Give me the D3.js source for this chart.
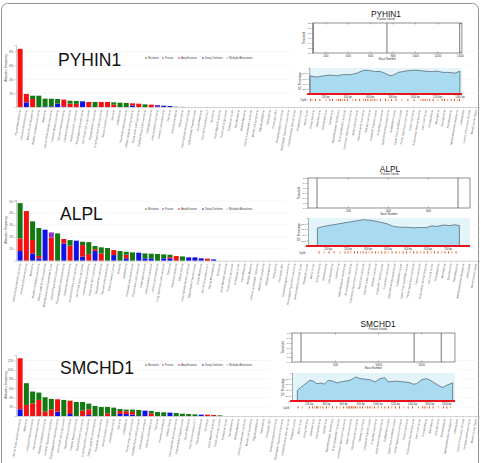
<!DOCTYPE html>
<html><head><meta charset="utf-8">
<script src="https://cdn.jsdelivr.net/npm/d3@7"></script>
<style>body{margin:0;background:#fff}svg{display:block}text{font-family:Arial,"Liberation Sans",Helvetica,sans-serif}</style>
</head><body><svg id="c" width="481" height="463"></svg>
<script>
// ---------------- DATA ----------------
const seriesKeys = ["deletion","amplification","fusion","mutation","multiple"];
const seriesNames = ["Mutation","Fusion","Amplification","Deep Deletion","Multiple Alterations"];
const seriesColors = {mutation:"#137a13",fusion:"#8b2fc9",amplification:"#f41010",deletion:"#1010e8",multiple:"#a8bcd8"};
const legendKeys = ["mutation","fusion","amplification","deletion","multiple"];

const pyhinCats = ["Pleural Mesothelioma","Cervical Adenocarcinoma","Mature B-Cell Neoplasms","Bladder Urothelial Carcinoma","Melanoma","Uterine Endometrioid Carcinoma","Invasive Breast Carcinoma","Stomach Adenocarcinoma","Colorectal Adenocarcinoma","Head and Neck Carcinoma","Esophageal Adenocarcinoma","Non-Small Cell Lung Cancer","Hepatocellular Carcinoma","Lung Squamous Cell Carcinoma","Serous Ovarian Cancer","Sarcoma","Glioblastoma","Pancreatic Adenocarcinoma","Diffuse Large B-Cell Lymphoma","Renal Clear Cell Carcinoma","Papillary Renal Cell Carcinoma","Cholangiocarcinoma","Adrenocortical Carcinoma","Uterine Carcinosarcoma","Thymoma","Pheochromocytoma","Diffuse Glioma","Chromophobe Renal Carcinoma","Differentiated Thyroid Cancer","Ocular Melanoma","Non-Seminomatous GCT","Seminoma","Acute Myeloid Leukemia","Small Cell Lung Cancer","Embryonal Tumor","Neuroblastoma","Multiple Myeloma","Chronic Lymphocytic Leukemia","Mantle Cell Lymphoma","Oligodendroglioma","Astrocytoma","Pancreatic NET","Nasopharyngeal Carcinoma","Esophageal Squamous Carcinoma","Gastrointestinal Stromal Tumor","Rhabdoid Cancer","Wilms Tumor","Ewing Sarcoma","Osteosarcoma","Leiomyosarcoma","Liposarcoma","Myelodysplastic Syndromes","B-Lymphoblastic Leukemia","Cutaneous Squamous Carcinoma","Basal Cell Carcinoma","Adenoid Cystic Carcinoma","Salivary Carcinoma","Anaplastic Thyroid Cancer","Ampullary Carcinoma","Appendiceal Adenocarcinoma","Gallbladder Cancer","Upper Tract Urothelial Cancer","Penile Squamous Carcinoma","Vulvar Carcinoma","Endometrial Stromal Sarcoma","Germ Cell Tumor","Pineoblastoma","Meningioma","Ependymoma","Retinoblastoma","Myeloproliferative Neoplasms","Histiocytosis","Cancer of Unknown Primary","Mixed Cancer Types"];
const pyhinDel  = [0,0.67,0,0,0.1,0.1,0.5,0.1,0,0,0.82,0,0,0,0,0,0,0,0.2,0,0,0,0,0.19,0.14,0,0];
const pyhinAmp  = [8.37,1.21,1.15,0,0,0,0,0.96,0.5,0.45,0,0.72,0,0.72,0.72,0.35,0,0,0.33,0.48,0,0.34,0,0,0,0,0];
const pyhinFus  = [0,0,0,0,0,0,0,0,0,0,0,0,0,0,0,0,0,0,0,0,0,0,0.29,0,0,0,0];
const pyhinMut  = [0,0,0.48,1.63,1.1,1.1,0.65,0,0.4,0.42,0,0,0.72,0,0,0.32,0.62,0.58,0,0,0.38,0,0,0,0,0,0];
const pyhinMulti= [0,0,0,0,0,0,0,0,0,0,0,0,0,0,0,0,0,0,0,0,0,0,0,0,0,0.1,0.05];

const alplCats = ["Uterine Endometrioid Carcinoma","Prostate Adenocarcinoma","Melanoma","Bladder Urothelial Carcinoma","Diffuse Large B-Cell Lymphoma","Miscellaneous Neuroepithelial Tumor","Cervical Squamous Carcinoma","Esophagogastric Adenocarcinoma","Colorectal Adenocarcinoma","Renal Non-Clear Cell Carcinoma","Non-Small Cell Lung Cancer","Invasive Breast Carcinoma","Head and Neck Carcinoma","Hepatocellular Carcinoma","Stomach Adenocarcinoma","Serous Ovarian Cancer","Sarcoma","Glioblastoma","Pancreatic Adenocarcinoma","Renal Clear Cell Carcinoma","Cholangiocarcinoma","Adrenocortical Carcinoma","Uterine Carcinosarcoma","Lung Squamous Cell Carcinoma","Thymoma","Pheochromocytoma","Diffuse Glioma","Chromophobe Renal Carcinoma","Differentiated Thyroid Cancer","Ocular Melanoma","Non-Seminomatous GCT","Pleural Mesothelioma","Seminoma","Acute Myeloid Leukemia","Small Cell Lung Cancer","Embryonal Tumor","Neuroblastoma","Multiple Myeloma","Chronic Lymphocytic Leukemia","Mantle Cell Lymphoma","Oligodendroglioma","Astrocytoma","Pancreatic NET","Nasopharyngeal Carcinoma","Esophageal Squamous Carcinoma","Gastrointestinal Stromal Tumor","Rhabdoid Cancer","Wilms Tumor","Ewing Sarcoma","Osteosarcoma","Leiomyosarcoma","Liposarcoma","Myelodysplastic Syndromes","B-Lymphoblastic Leukemia","Cutaneous Squamous Carcinoma","Basal Cell Carcinoma","Adenoid Cystic Carcinoma","Salivary Carcinoma","Anaplastic Thyroid Cancer","Ampullary Carcinoma","Appendiceal Adenocarcinoma","Gallbladder Cancer","Upper Tract Urothelial Cancer","Penile Squamous Carcinoma","Vulvar Carcinoma","Endometrial Stromal Sarcoma","Germ Cell Tumor","Pineoblastoma","Meningioma","Ependymoma","Retinoblastoma","Myeloproliferative Neoplasms","Histiocytosis","Mixed Cancer Types"];
const alplDel  = [0.81,0,0.61,0.2,2.6,0,0,1.45,0,1.68,0.34,0,0.81,0,0,0.47,0,0.2,0,0.67,0.2,0.2,0,0.2,0.2,0,0,0.28,0.28,0.2,0,0.11,0];
const alplAmp  = [1.06,4.16,1.12,0.2,0,1.95,0,0.37,1.26,0,0.97,0.55,0.15,0.61,0,0.42,0,0.3,0,0,0,0,0,0,0.1,0.39,0,0,0,0,0.17,0,0];
const alplFus  = [0,0,0,0,0,0.42,0,0,0,0,0,0,0,0,0,0,0,0,0,0,0,0,0,0,0,0,0,0,0,0,0,0,0];
const alplMut  = [2.96,0,1.57,2.34,0,0,2.29,0,0.47,0,0.28,1.01,0.27,0.51,1.06,0,0.81,0.25,0.7,0,0.41,0.39,0.56,0.33,0.2,0,0.36,0,0,0,0,0,0];
const alplMulti= [0,0,0,0,0,0,0,0,0,0,0,0,0,0,0,0,0,0,0,0,0,0,0,0,0,0,0,0,0,0,0,0,0];

const smchdCats = ["Uterine Endometrioid Carcinoma","Melanoma","Colorectal Adenocarcinoma","Stomach Adenocarcinoma","Bladder Urothelial Carcinoma","Cervical Squamous Carcinoma","Esophagogastric Adenocarcinoma","Non-Small Cell Lung Cancer","Hepatocellular Carcinoma","Invasive Breast Carcinoma","Head and Neck Carcinoma","Lung Squamous Cell Carcinoma","Diffuse Large B-Cell Lymphoma","Pancreatic Adenocarcinoma","Serous Ovarian Cancer","Cholangiocarcinoma","Sarcoma","Glioblastoma","Renal Clear Cell Carcinoma","Papillary Renal Cell Carcinoma","Adrenocortical Carcinoma","Uterine Carcinosarcoma","Thymoma","Pheochromocytoma","Diffuse Glioma","Chromophobe Renal Carcinoma","Differentiated Thyroid Cancer","Ocular Melanoma","Non-Seminomatous GCT","Pleural Mesothelioma","Seminoma","Acute Myeloid Leukemia","Small Cell Lung Cancer","Embryonal Tumor","Neuroblastoma","Multiple Myeloma","Chronic Lymphocytic Leukemia","Mantle Cell Lymphoma","Oligodendroglioma","Astrocytoma","Pancreatic NET","Nasopharyngeal Carcinoma","Esophageal Squamous Carcinoma","Gastrointestinal Stromal Tumor","Rhabdoid Cancer","Wilms Tumor","Ewing Sarcoma","Osteosarcoma","Leiomyosarcoma","Liposarcoma","Myelodysplastic Syndromes","B-Lymphoblastic Leukemia","Cutaneous Squamous Carcinoma","Basal Cell Carcinoma","Adenoid Cystic Carcinoma","Salivary Carcinoma","Anaplastic Thyroid Cancer","Ampullary Carcinoma","Appendiceal Adenocarcinoma","Gallbladder Cancer","Upper Tract Urothelial Cancer","Penile Squamous Carcinoma","Vulvar Carcinoma","Endometrial Stromal Sarcoma","Germ Cell Tumor","Pineoblastoma","Meningioma","Ependymoma","Retinoblastoma","Myeloproliferative Neoplasms","Histiocytosis","Cancer of Unknown Primary","Prostate Adenocarcinoma","Mixed Cancer Types"];
const smchdDel  = [1.45,0,0,0,0,0,0.94,0,0.43,0,0,0.2,0,0,0,0,0.43,0.43,0.3,0,1.16,0,0,0,0.72,0,0,0,0,0.29,0,0,0];
const smchdAmp  = [11.05,2.39,2.75,3.48,0.94,1.45,2.68,0,2.83,0,1.16,1.25,0,0,0.58,0,0.66,0.6,0.6,0,0,0.58,0,0,0,0,0,0,0,0,0.29,0.22,0];
const smchdFus  = [0,0,0,0,0,0,0,0,0,0,0,0,0,0,0,0,0,0,0,0,0,0,0,0,0,0,0,0,0,0,0,0,0];
const smchdMut  = [0,4.71,2.55,1.59,3.12,2.25,0,3.48,0.07,3.04,1.88,1.23,2.17,1.96,1.38,1.81,0.43,0.35,0.48,1.3,0,0.51,0.87,0.8,0,0.65,0.5,0.43,0.36,0,0,0,0.14];
const smchdMulti= [0,0,0,0,0,0,0,0,0,0,0,0,0,0,0,0,0,0,0,0,0,0,0,0,0,0,0,0,0,0,0,0,0];

// inset (putative islands / GC percentage) data, base positions in bp
const pyhinThreshold = [92, 749, 1398];
const pyhinGcPos = [62,122,181,241,300,360,419,479,538,583,642,687,731,776,806,850,910,969,1029,1088,1133,1193,1252,1311,1356,1400];
const pyhinGcVal = [70,65,70,73,70,75,74,80,91,91,86,87,80,70,73,83,88,91,91,88,86,88,83,83,80,88];
const pyhinCpG = [68,80,110,150,205,240,262,300,318,335,352,372,395,440,470,505,540,556,578,600,615,640,660,690,735,760,790,830,880,935,990,1050,1070,1090,1110,1130,1160,1205,1240,1262,1290,1320,1350,1380,1395];

const alplThreshold = [45, 750];
const alplGcPos = [47,77,127,160,193,227,260,277,310,343,368,393,427,460,493,527,560,593,618,643,677,710,735,757];
const alplGcVal = [64,70,76,80,84,88,92,94,92,88,84,80,70,67,67,65,66,66,72,70,75,73,76,73];
const alplCpG = [55,80,105,130,160,185,200,215,232,248,262,275,290,305,320,338,352,368,385,400,420,440,458,475,492,510,528,545,562,580,598,615,632,650,668,685,702,720,740];

const smchdThreshold = [105, 1420, 1735];
const smchdGcPos = [62,85,132,209,248,287,345,372,422,473,519,597,674,744,791,907,965,1023,1081,1120,1198,1314,1372,1411,1450,1508,1566,1624,1701,1752,1798,1868];
const smchdGcVal = [38,44,56,74,71,62,64,60,74,71,65,70,74,86,80,76,68,80,83,68,71,68,65,60,62,76,80,71,56,48,56,65];
const smchdCpG = [70,120,200,240,262,285,300,330,360,400,430,470,520,560,600,640,655,670,690,705,720,740,760,790,820,850,880,905,930,960,1000,1040,1080,1120,1160,1200,1250,1300,1350,1400,1470,1520,1545,1570,1600,1640,1700,1760,1800,1840];

// ---------------- DRAW ----------------
const svg = d3.select("#c");
svg.append("rect").attr("width",481).attr("height",463).attr("fill","#fff");
svg.append("rect").attr("x",1.5).attr("y",3.5).attr("width",477).attr("height",475).attr("rx",6)
  .attr("fill","none").attr("stroke","#777").attr("stroke-width",0.8);

function barPanel(o){
  const g = svg.append("g");
  const x = d3.scaleBand().domain(o.cats).range([17,479]).paddingInner(0.2).paddingOuter(0.1);
  const y = d3.scaleLinear().domain([0,o.yMax]).range([o.base,o.top]);
  g.selectAll(".grid").data(o.ticks).join("line")
    .attr("x1",16).attr("x2",479).attr("y1",d=>y(d)).attr("y2",d=>y(d))
    .attr("stroke","#ececec").attr("stroke-width",0.5);
  const rows = o.cats.map((c,i)=>{const r={cat:c}; seriesKeys.forEach(k=>{r[k]=o.series[k][i]||0;}); return r;});
  const stacked = d3.stack().keys(seriesKeys)(rows);
  g.selectAll(".layer").data(stacked).join("g").attr("fill",d=>seriesColors[d.key])
    .selectAll("rect").data(d=>d.filter(p=>p[1]-p[0]>0)).join("rect")
      .attr("x",d=>x(d.data.cat)).attr("width",x.bandwidth())
      .attr("y",d=>y(d[1])).attr("height",d=>y(d[0])-y(d[1]));
  const ya = g.append("g").attr("transform","translate(16,0)")
    .call(d3.axisLeft(y).tickValues(o.ticks).tickFormat(d=>d+"%").tickSize(1.5).tickPadding(1));
  ya.select(".domain").attr("stroke","#999").attr("stroke-width",0.5);
  ya.selectAll(".tick line").attr("stroke","#999").attr("stroke-width",0.5);
  ya.selectAll("text").attr("font-size",3).attr("fill","#555");
  g.append("text").attr("transform",`translate(7,${o.labelY}) rotate(-90)`).attr("text-anchor","middle")
    .attr("font-size",3).attr("fill","#555").text("Alteration Frequency");
  const xa = g.append("g").attr("transform",`translate(0,${o.base})`)
    .call(d3.axisBottom(x).tickSize(1.5).tickPadding(1));
  xa.select(".domain").attr("stroke","#aaa").attr("stroke-width",0.5);
  xa.selectAll(".tick line").attr("stroke","#aaa").attr("stroke-width",0.4);
  xa.selectAll("text").attr("font-size",2.7).attr("fill","#555")
    .attr("text-anchor","end").attr("transform","translate(0,3) rotate(-80)").attr("dy","0.32em").attr("y",0);
  g.append("text").attr("x",o.nameX).attr("y",o.nameY).attr("font-size",17.5).attr("fill","#111").text(o.gene);
  const lx = [146,163,179,203,227];
  legendKeys.forEach((k,i)=>{
    g.append("circle").attr("cx",lx[i]).attr("cy",o.legendY).attr("r",0.8).attr("fill",seriesColors[k]);
    g.append("text").attr("x",lx[i]+2).attr("y",o.legendY+1).attr("font-size",2.8).attr("fill","#444").text(seriesNames[i]);
  });
}

function inset(o){
  const g = svg.append("g");
  const x = d3.scaleLinear().domain([0,1]).range([o.x0,o.x0+o.k]);
  const bx0 = x(o.boxStart), bx1 = x(o.boxEnd);
  g.append("rect").attr("x",bx0-22).attr("y",o.titleY-9).attr("width",bx1-bx0+26).attr("height",o.cpgY-o.titleY+12).attr("fill","#fff");
  g.append("text").attr("x",o.titleX).attr("y",o.titleY).attr("text-anchor","middle").attr("font-size",8.3).attr("fill","#111").text(o.gene);
  g.append("text").attr("x",o.titleX).attr("y",o.titleY+3.2).attr("text-anchor","middle").attr("font-size",2.6).attr("fill","#333").text("Putative Islands");
  const yt = d3.scaleLinear().domain([0,1.2]).range([o.thrBot,o.thrTop]);
  g.append("rect").attr("x",bx0).attr("y",o.thrTop).attr("width",bx1-bx0).attr("height",o.thrBot-o.thrTop)
    .attr("fill","#fff").attr("stroke","#444").attr("stroke-width",0.6);
  g.selectAll(".thr").data(o.threshold).join("line")
    .attr("x1",d=>x(d)).attr("x2",d=>x(d)).attr("y1",o.thrTop).attr("y2",o.thrBot)
    .attr("stroke","#555").attr("stroke-width",0.8);
  const xb = g.append("g").attr("transform",`translate(0,${o.thrBot})`)
    .call(d3.axisBottom(x).tickValues(o.ticks).tickSize(-1.5).tickPadding(1.5).tickFormat(d3.format("d")));
  xb.select(".domain").remove();
  xb.selectAll("line").attr("stroke","#444").attr("stroke-width",0.4);
  xb.selectAll("text").attr("font-size",3).attr("fill","#333");
  const xtop = g.append("g").attr("transform",`translate(0,${o.thrTop})`)
    .call(d3.axisTop(x).tickValues(o.ticks).tickSize(-1.5).tickFormat(""));
  xtop.select(".domain").remove(); xtop.selectAll("line").attr("stroke","#444").attr("stroke-width",0.4);
  const yl = g.append("g").attr("transform",`translate(${bx0},0)`)
    .call(d3.axisLeft(yt).ticks(6).tickSize(1.2).tickPadding(0.8).tickFormat(d3.format(".1f")));
  yl.select(".domain").remove(); yl.selectAll("line").attr("stroke","#444").attr("stroke-width",0.4);
  yl.selectAll("text").attr("font-size",2.3).attr("fill","#333");
  g.append("text").attr("transform",`translate(${bx0-8},${(o.thrTop+o.thrBot)/2}) rotate(-90)`).attr("text-anchor","middle")
    .attr("font-size",2.8).attr("fill","#333").text("Threshold");
  g.append("text").attr("x",(bx0+bx1)/2).attr("y",o.thrBot+7).attr("text-anchor","middle").attr("font-size",2.8).attr("fill","#333").text("Base Number");
  const yc = d3.scaleLinear().domain([0,100]).range([o.covBase,o.covTop]);
  const cx0 = x(o.covStart);
  g.append("rect").attr("x",cx0).attr("y",o.covTop).attr("width",bx1-cx0).attr("height",o.covBase-o.covTop).attr("fill","#e3f4fb");
  const pts = o.gcPos.map((p,i)=>[p,o.gcVal[i]]);
  const full = [[o.gcPos[0],0]].concat(pts).concat([[o.gcPos[o.gcPos.length-1],0]]);
  g.append("path").datum(pts).attr("fill","#a8dbf0")
    .attr("d",d3.area().x(d=>x(d[0])).y0(yc(0)).y1(d=>yc(d[1])));
  g.append("path").datum(full).attr("fill","none").attr("stroke","#2c3540").attr("stroke-width",0.55)
    .attr("d",d3.line().x(d=>x(d[0])).y(d=>yc(d[1])));
  const ycl = g.append("g").attr("transform",`translate(${cx0},0)`)
    .call(d3.axisLeft(yc).tickValues([0,20,40,60,80]).tickSize(1.2).tickPadding(0.8).tickFormat(d=>d===0?"0":d3.format(".1f")(d)));
  ycl.select(".domain").attr("stroke","#444").attr("stroke-width",0.4);
  ycl.selectAll("line").attr("stroke","#444").attr("stroke-width",0.4);
  ycl.selectAll("text").attr("font-size",2.4).attr("fill","#333");
  g.append("text").attr("transform",`translate(${cx0-8},${(o.covTop+o.covBase)/2}) rotate(-90)`).attr("text-anchor","middle")
    .attr("font-size",2.6).attr("fill","#333").text("GC Percentage");
  g.append("line").attr("x1",cx0-2).attr("x2",bx1).attr("y1",o.covBase).attr("y2",o.covBase)
    .attr("stroke","#e8141b").attr("stroke-width",2);
  g.selectAll(".bp").data(o.bpTicks).join("text").attr("x",d=>x(d)).attr("y",o.covBase+3.6)
    .attr("text-anchor","middle").attr("font-size",2.6).attr("fill","#333").text(d=>d+" bp");
  g.append("text").attr("x",cx0-9).attr("y",o.cpgY+1).attr("font-size",3).attr("fill","#333").text("CpG:");
  g.selectAll(".cpg").data(o.cpg).join("rect").attr("x",d=>x(d)-0.4).attr("y",o.cpgY-1.2)
    .attr("width",0.9).attr("height",2.2).attr("fill",(d,i)=>i%3===1?"#f0a030":"#e03a22");
}

barPanel({gene:"PYHIN1",cats:pyhinCats,series:{deletion:pyhinDel,amplification:pyhinAmp,fusion:pyhinFus,mutation:pyhinMut,multiple:pyhinMulti},
  base:107,top:45,yMax:8.93,ticks:[2,4,6,8],labelY:68,nameX:58,nameY:66,legendY:58});
barPanel({gene:"ALPL",cats:alplCats,series:{deletion:alplDel,amplification:alplAmp,fusion:alplFus,mutation:alplMut,multiple:alplMulti},
  base:260.7,top:200,yMax:5.09,ticks:[1,2,3,4,5],labelY:230,nameX:60,nameY:219.5,legendY:209});
barPanel({gene:"SMCHD1",cats:smchdCats,series:{deletion:smchdDel,amplification:smchdAmp,fusion:smchdFus,mutation:smchdMut,multiple:smchdMulti},
  base:416,top:355,yMax:13.2,ticks:[2,4,6,8,10,12],labelY:385,nameX:60,nameY:373.5,legendY:365});

inset({gene:"PYHIN1",x0:303,k:0.1121,boxStart:88,boxEnd:1418,covStart:56,thrTop:23,thrBot:53,covTop:68,covBase:94,
  titleX:386,titleY:17,ticks:[200,400,600,800,1000,1200,1400],bpTicks:[200,400,600,800,1000,1200,1400],cpgY:100,
  threshold:pyhinThreshold,gcPos:pyhinGcPos,gcVal:pyhinGcVal,cpg:pyhinCpG});
inset({gene:"ALPL",x0:308,k:0.2,boxStart:0,boxEnd:810,covStart:0,thrTop:178,thrBot:208,covTop:218,covBase:246,
  titleX:390,titleY:172,ticks:[200,400,600],bpTicks:[100,200,300,400,500,600,700],cpgY:252.5,
  threshold:alplThreshold,gcPos:alplGcPos,gcVal:alplGcVal,cpg:alplCpG});
inset({gene:"SMCHD1",x0:292,k:0.086,boxStart:0,boxEnd:1895,covStart:0,thrTop:333,thrBot:362,covTop:373,covBase:401,
  titleX:378,titleY:327,ticks:[500,1000,1500],bpTicks:[200,400,600,800,1000,1200,1400,1600,1800],cpgY:407.5,
  threshold:smchdThreshold,gcPos:smchdGcPos,gcVal:smchdGcVal,cpg:smchdCpG});
</script></body></html>
